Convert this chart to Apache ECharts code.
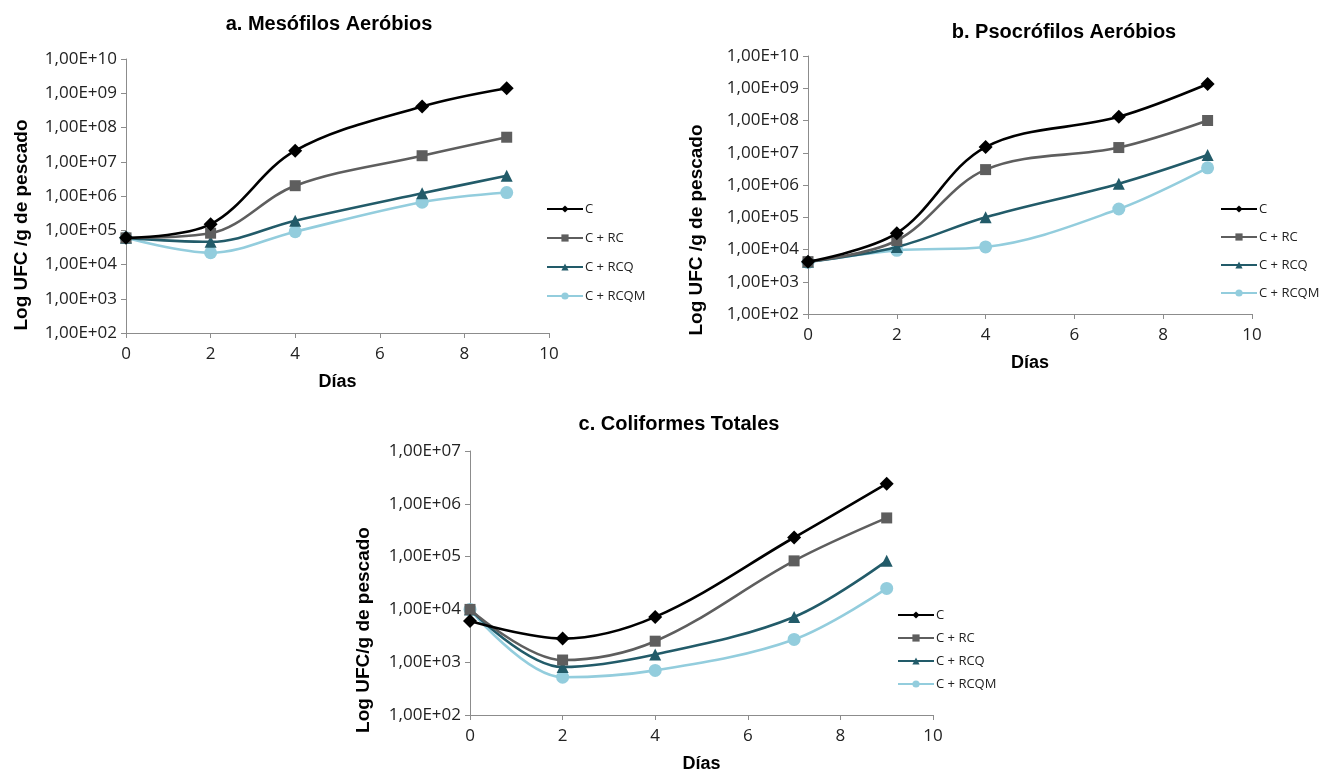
<!DOCTYPE html>
<html>
<head>
<meta charset="utf-8">
<script src="https://cdn.jsdelivr.net/npm/echarts@6/dist/echarts.min.js"></script>
<style>
html,body{margin:0;padding:0;background:#fff;}
#chart{width:1320px;height:774px;}
</style>
</head>
<body>
<div id="chart"></div>
<script>
// ---- Data ----
const dias = [0, 2, 4, 7, 9];
const seriesNames = ['C', 'C + RC', 'C + RCQ', 'C + RCQM'];

// a. Mesófilos Aeróbios
const mesC    = [6.0e4, 1.5e5, 2.1e7, 4.1e8, 1.4e9];
const mesRC   = [6.0e4, 8.2e4, 2.0e6, 1.5e7, 5.2e7];
const mesRCQ  = [6.0e4, 4.6e4, 1.9e5, 1.2e6, 3.9e6];
const mesRCQM = [6.0e4, 2.2e4, 9.1e4, 6.6e5, 1.26e6];

// b. Psocrófilos Aeróbios
const psoC    = [4.2e3, 3.2e4, 1.5e7, 1.3e8, 1.35e9];
const psoRC   = [4.2e3, 1.9e4, 3.0e6, 1.45e7, 1.0e8];
const psoRCQ  = [4.2e3, 1.2e4, 1.0e5, 1.1e6, 8.5e6];
const psoRCQM = [4.0e3, 9.4e3, 1.2e4, 1.8e5, 3.4e6];

// c. Coliformes Totales
const colC    = [6.0e3, 2.8e3, 7.2e3, 2.3e5, 2.4e6];
const colRC   = [1.0e4, 1.1e3, 2.5e3, 8.3e4, 5.4e5];
const colRCQ  = [1.0e4, 8.1e2, 1.4e3, 7.2e3, 8.3e4];
const colRCQM = [1.0e4, 5.2e2, 7.0e2, 2.7e3, 2.5e4];

const titles = ['a. Mesófilos Aeróbios', 'b. Psocrófilos Aeróbios', 'c. Coliformes Totales'];
const yNames = ['Log UFC /g de pescado', 'Log UFC /g de pescado', 'Log UFC/g de pescado'];
const xName = 'Días';
const yRanges = [[1e2, 1e10], [1e2, 1e10], [1e2, 1e7]];
const xTicks = [0, 2, 4, 6, 8, 10];

// ---- Styles ----
const colors = ['#000000', '#5e5e5e', '#225b69', '#93cddd'];
const symbols = ['diamond', 'rect', 'triangle', 'circle'];
const symbolSizes = [14, 11, 12, 13];
const tickFont = 'Open Sans';
const axisColor = '#8c8c8c';

const grids = [
  {left: 126, top: 59, width: 423, height: 274},
  {left: 808, top: 56, width: 444, height: 258},
  {left: 470, top: 451, width: 463, height: 265}
];
const titlePos = [[324, 9], [1059, 17], [674, 409]];
const yNameGap = [95, 102, 97];
const yNameShift = [58, 90, 94];
const legendPos = [{left: 546, top: 202, gap: 15}, {left: 1220, top: 202, gap: 14}, {left: 897, top: 608, gap: 9}];

const dataSets = [
  [mesC, mesRC, mesRCQ, mesRCQM],
  [psoC, psoRC, psoRCQ, psoRCQM],
  [colC, colRC, colRCQ, colRCQM]
];

function fmtE(v) {
  const e = Math.round(Math.log10(v));
  const s = (e < 0 ? '-' : '+') + String(Math.abs(e)).padStart(2, '0');
  return '1,00E' + s;
}

const option = {
  backgroundColor: '#ffffff',
  animation: false,
  title: titles.map((t, i) => ({
    text: t,
    left: titlePos[i][0],
    top: titlePos[i][1],
    textAlign: 'center',
    textStyle: {fontFamily: 'Liberation Sans', fontWeight: 'bold', fontSize: 20, color: '#000'}
  })),
  grid: grids.map(g => Object.assign({containLabel: false}, g)),
  legend: legendPos.map(p => ({
    data: seriesNames,
    orient: 'vertical',
    left: p.left,
    top: p.top,
    itemGap: p.gap,
    itemWidth: 36,
    itemHeight: 9,
    padding: 0,
    selectedMode: false,
    textStyle: {fontFamily: tickFont, fontSize: 13, color: '#222', padding: [0, 0, 0, -3], lineHeight: 14}
  })),
  xAxis: grids.map((g, i) => ({
    type: 'value',
    gridIndex: i,
    min: xTicks[0],
    max: xTicks[xTicks.length - 1],
    interval: 2,
    name: xName,
    nameLocation: 'middle',
    nameGap: 40,
    nameTextStyle: {fontFamily: 'Liberation Sans', fontWeight: 'bold', fontSize: 18, color: '#000'},
    axisLine: {show: true, lineStyle: {color: axisColor, width: 1}},
    axisTick: {show: true, inside: false, length: 5, lineStyle: {color: axisColor}},
    axisLabel: {fontFamily: tickFont, fontSize: 17, color: '#222', margin: 13},
    splitLine: {show: false}
  })),
  yAxis: grids.map((g, i) => ({
    type: 'log',
    logBase: 10,
    gridIndex: i,
    min: yRanges[i][0],
    max: yRanges[i][1],
    interval: 1,
    name: yNames[i],
    nameLocation: 'middle',
    nameGap: yNameGap[i],
    nameTextStyle: {fontFamily: 'Liberation Sans', fontWeight: 'bold', fontSize: 19, color: '#000', padding: [0, yNameShift[i], 0, 0]},
    axisLine: {show: true, lineStyle: {color: axisColor, width: 1}},
    axisTick: {show: true, inside: false, length: 5, lineStyle: {color: axisColor}},
    axisLabel: {fontFamily: tickFont, fontSize: 17, color: '#222', margin: 9, formatter: fmtE},
    splitLine: {show: false}
  })),
  series: []
};

dataSets.forEach((set, gi) => {
  set.forEach((vals, si) => {
    option.series.push({
      type: 'line',
      name: seriesNames[si],
      xAxisIndex: gi,
      yAxisIndex: gi,
      data: dias.map((d, k) => [d, vals[k]]),
      smooth: 0.35,
      symbol: symbols[si],
      symbolSize: symbolSizes[si],
      showAllSymbol: true,
      lineStyle: {color: colors[si], width: 2.6},
      itemStyle: {color: colors[si], borderWidth: 0},
      z: 10 - si
    });
  });
});

const chart = echarts.init(document.getElementById('chart'), null, {renderer: 'canvas'});
chart.setOption(option);
</script>
</body>
</html>
